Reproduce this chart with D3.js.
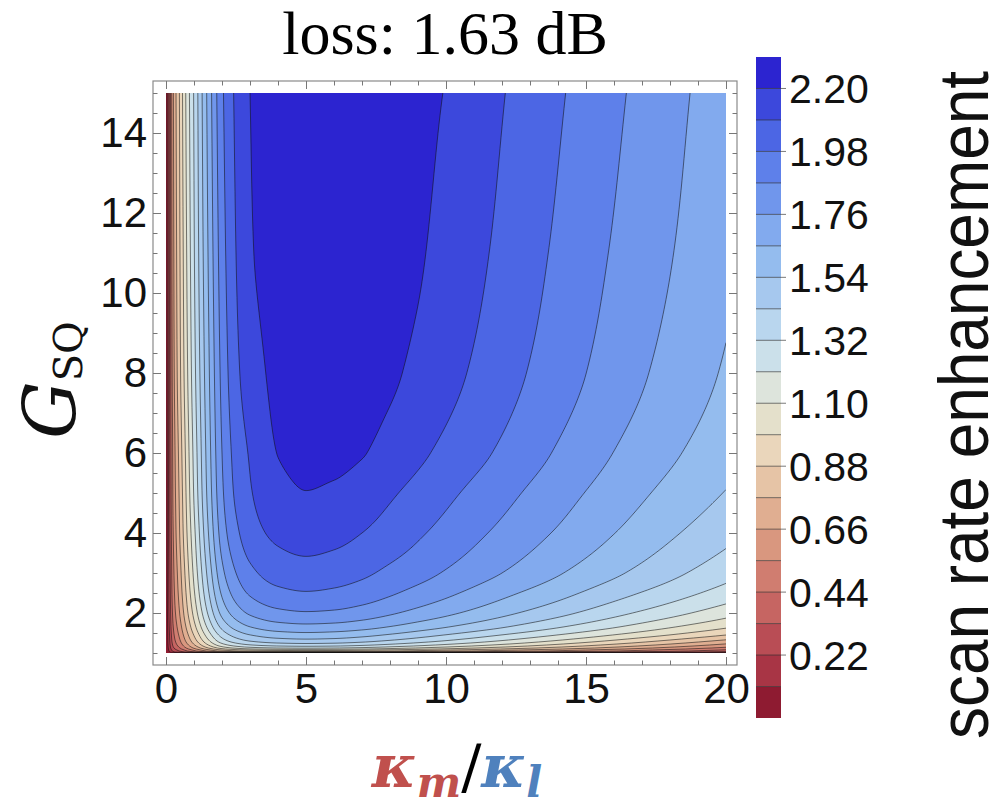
<!DOCTYPE html>
<html>
<head>
<meta charset="utf-8">
<script src="https://cdn.jsdelivr.net/npm/d3@7"></script>
<style>
  body { margin: 0; background: #fff; }
  svg { display: block; }
</style>
</head>
<body>
<svg id="chart" width="1006" height="809"></svg>
<script>
// ---- data ----
// grid columns (kappa_m / kappa_l) and rows (G_SQ)
const kappaRatio = [0, 0.1, 0.25, 0.5, 0.75, 1, 1.5, 2, 2.5, 3, 4, 5, 6, 7, 8, 9, 10, 12, 14, 16, 18, 20];
const gainSQ = [1, 1.03, 1.07, 1.12, 1.2, 1.3, 1.45, 1.65, 2, 2.5, 3, 4, 5, 6, 8, 11, 15];

// scan rate enhancement, one row per G_SQ value
const rowG1_00 = [0, 0, 0, 0, 0, 0, 0, 0, 0, 0, 0, 0, 0, 0, 0, 0, 0, 0, 0, 0, 0, 0];
const rowG1_03 = [0, 0.092, 0.21, 0.302, 0.386, 0.462, 0.601, 0.71, 0.769, 0.802, 0.832, 0.84, 0.833, 0.813, 0.783, 0.748, 0.713, 0.637, 0.561, 0.484, 0.407, 0.33];
const rowG1_07 = [0, 0.112, 0.255, 0.367, 0.469, 0.561, 0.729, 0.862, 0.933, 0.974, 1.01, 1.02, 1.012, 0.988, 0.952, 0.911, 0.869, 0.78, 0.69, 0.6, 0.509, 0.418];
const rowG1_12 = [0, 0.133, 0.303, 0.436, 0.557, 0.666, 0.865, 1.022, 1.107, 1.156, 1.198, 1.21, 1.2, 1.173, 1.13, 1.083, 1.034, 0.932, 0.828, 0.723, 0.618, 0.514];
const rowG1_20 = [0, 0.151, 0.344, 0.496, 0.633, 0.757, 0.985, 1.164, 1.26, 1.315, 1.363, 1.377, 1.367, 1.338, 1.293, 1.243, 1.19, 1.08, 0.967, 0.853, 0.74, 0.626];
const rowG1_30 = [0, 0.165, 0.375, 0.54, 0.69, 0.825, 1.073, 1.268, 1.373, 1.433, 1.485, 1.5, 1.49, 1.46, 1.415, 1.365, 1.312, 1.2, 1.085, 0.97, 0.855, 0.739];
const rowG1_45 = [0, 0.177, 0.403, 0.58, 0.741, 0.886, 1.152, 1.361, 1.474, 1.538, 1.595, 1.611, 1.6, 1.572, 1.528, 1.478, 1.426, 1.318, 1.208, 1.097, 0.988, 0.88];
const rowG1_65 = [0, 0.19, 0.43, 0.62, 0.794, 0.95, 1.234, 1.458, 1.579, 1.648, 1.709, 1.726, 1.716, 1.688, 1.645, 1.595, 1.545, 1.44, 1.33, 1.22, 1.11, 1.005];
const rowG2_0 = [0, 0.205, 0.465, 0.67, 0.856, 1.023, 1.33, 1.572, 1.702, 1.776, 1.841, 1.86, 1.85, 1.82, 1.775, 1.725, 1.675, 1.57, 1.465, 1.355, 1.25, 1.144];
const rowG2_5 = [0, 0.217, 0.493, 0.71, 0.906, 1.085, 1.41, 1.667, 1.805, 1.884, 1.953, 1.973, 1.96, 1.93, 1.885, 1.835, 1.785, 1.68, 1.58, 1.475, 1.375, 1.274];
const rowG3 = [0, 0.225, 0.51, 0.736, 0.94, 1.125, 1.46, 1.73, 1.87, 1.953, 2.025, 2.045, 2.03, 2.0, 1.955, 1.91, 1.86, 1.76, 1.66, 1.56, 1.46, 1.36];
const rowG4 = [0, 0.24, 0.54, 0.78, 0.99, 1.18, 1.53, 1.81, 1.955, 2.04, 2.115, 2.14, 2.125, 2.09, 2.045, 1.995, 1.945, 1.845, 1.748, 1.652, 1.557, 1.465];
const rowG5 = [0, 0.245, 0.56, 0.8, 1.02, 1.22, 1.57, 1.85, 2.0, 2.08, 2.17, 2.198, 2.186, 2.152, 2.105, 2.055, 2.005, 1.905, 1.805, 1.71, 1.62, 1.535];
const rowG6 = [0, 0.25, 0.57, 0.82, 1.04, 1.24, 1.59, 1.87, 2.02, 2.1, 2.202, 2.222, 2.222, 2.205, 2.165, 2.113, 2.062, 1.962, 1.858, 1.758, 1.668, 1.585];
const rowG8 = [0, 0.26, 0.6, 0.86, 1.08, 1.28, 1.62, 1.9, 2.06, 2.15, 2.222, 2.242, 2.245, 2.236, 2.214, 2.178, 2.128, 2.025, 1.922, 1.82, 1.725, 1.638];
const rowG11 = [0, 0.27, 0.62, 0.88, 1.11, 1.31, 1.65, 1.93, 2.09, 2.19, 2.235, 2.25, 2.255, 2.25, 2.235, 2.21, 2.168, 2.066, 1.962, 1.86, 1.766, 1.675];
const rowG15 = [0, 0.28, 0.64, 0.9, 1.14, 1.33, 1.68, 1.96, 2.11, 2.2, 2.245, 2.26, 2.265, 2.261, 2.248, 2.226, 2.196, 2.096, 1.994, 1.892, 1.794, 1.7];

const enhancement = [rowG1_00, rowG1_03, rowG1_07, rowG1_12, rowG1_20, rowG1_30, rowG1_45, rowG1_65,
  rowG2_0, rowG2_5, rowG3, rowG4, rowG5, rowG6, rowG8, rowG11, rowG15];

const contourLevels = [0.11, 0.22, 0.33, 0.44, 0.55, 0.66, 0.77, 0.88, 0.99, 1.1, 1.21, 1.32, 1.43, 1.54, 1.65, 1.76, 1.87, 1.98, 2.09, 2.2];
const legendMax = 2.31;
const legendTicks = [0.22, 0.44, 0.66, 0.88, 1.1, 1.32, 1.54, 1.76, 1.98, 2.2];
const xTicks = [0, 5, 10, 15, 20];
const xMinor = [1, 2, 3, 4, 6, 7, 8, 9, 11, 12, 13, 14, 16, 17, 18, 19];
const yTicks = [2, 4, 6, 8, 10, 12, 14];
const yMinor = [1, 1.5, 2.5, 3, 3.5, 4.5, 5, 5.5, 6.5, 7, 7.5, 8.5, 9, 9.5, 10.5, 11, 11.5, 12.5, 13, 13.5, 14.5, 15];

// band colours, low to high
const bandColors = ["#8e1b31", "#a83545", "#b94d55", "#c66562", "#d07d70", "#d9977f", "#e0ae91",
  "#e6c4a6", "#ead6bb", "#e4e0cb", "#dde4dc", "#cbe0ea", "#b9d6ee", "#a6c8ee", "#94bcee",
  "#82aaee", "#7096ec", "#5e80ea", "#4c66e4", "#3c48dc", "#2c24d0"];

// ---- layout ----
const svg = d3.select("#chart");
const x = d3.scaleLinear().domain([0, 20]).range([166, 726]);
const y = d3.scaleLinear().domain([1, 15]).range([653, 93]);
const frame = { left: 153, top: 81, right: 737, bottom: 665 };

// monotone cubic (Fritsch-Butland) used to resample the grid for rendering
function monotone(xs, ys) {
  const n = xs.length, d = [], m = new Array(n);
  for (let i = 0; i < n - 1; i++) d.push((ys[i + 1] - ys[i]) / (xs[i + 1] - xs[i]));
  m[0] = d[0]; m[n - 1] = d[n - 2];
  for (let i = 1; i < n - 1; i++) {
    if (d[i - 1] * d[i] <= 0) { m[i] = 0; continue; }
    const h0 = xs[i] - xs[i - 1], h1 = xs[i + 1] - xs[i];
    const w1 = 2 * h1 + h0, w2 = h1 + 2 * h0;
    m[i] = (w1 + w2) / (w1 / d[i - 1] + w2 / d[i]);
  }
  return v => {
    if (v <= xs[0]) return ys[0];
    if (v >= xs[n - 1]) return ys[n - 1];
    const i = Math.min(n - 2, d3.bisectRight(xs, v) - 1);
    const h = xs[i + 1] - xs[i], t = (v - xs[i]) / h, t2 = t * t, t3 = t2 * t;
    return (2 * t3 - 3 * t2 + 1) * ys[i] + (t3 - 2 * t2 + t) * h * m[i] +
      (-2 * t3 + 3 * t2) * ys[i + 1] + (t3 - t2) * h * m[i + 1];
  };
}

// title
svg.append("text")
  .attr("x", 445).attr("y", 54)
  .attr("text-anchor", "middle")
  .style("font-family", "'Liberation Serif', 'DejaVu Serif', serif")
  .style("font-size", "62px")
  .text("loss: 1.63 dB");

// frame
svg.append("rect")
  .attr("x", frame.left).attr("y", frame.top)
  .attr("width", frame.right - frame.left).attr("height", frame.bottom - frame.top)
  .attr("fill", "#fff").attr("stroke", "#8a8a8a").attr("stroke-width", 1.2);

// ---- contour field ----
const pad = 4;
const nx = Math.round(x(20) - x(0)) + 1 + 2 * pad;
const ny = Math.round(y(1) - y(15)) + 1 + 2 * pad;
const rowFns = enhancement.map(row => monotone(kappaRatio, row));
const field = new Float64Array(nx * ny);
for (let i = 0; i < nx; i++) {
  const kv = Math.max(0, Math.min(20, x.invert(x(0) + i - pad)));
  const colFn = monotone(gainSQ, rowFns.map(f => f(kv)));
  for (let j = 0; j < ny; j++) {
    const gv = Math.max(1, Math.min(15, y.invert(y(15) + j - pad)));
    field[j * nx + i] = colFn(gv);
  }
}
const bands = d3.contours().size([nx, ny]).thresholds(contourLevels)(field);

svg.append("clipPath").attr("id", "plotClip")
  .append("rect").attr("x", x(0)).attr("y", y(15))
  .attr("width", x(20) - x(0)).attr("height", y(1) - y(15));

const plot = svg.append("g").attr("clip-path", "url(#plotClip)");
plot.append("rect").attr("x", x(0)).attr("y", y(15))
  .attr("width", x(20) - x(0)).attr("height", y(1) - y(15))
  .attr("fill", bandColors[0]);

const grid = plot.append("g")
  .attr("transform", `translate(${x(0) - pad - 0.5},${y(15) - pad - 0.5})`);
const path = d3.geoPath();

grid.selectAll("path.band")
  .data(bands)
  .join("path")
  .attr("class", "band")
  .attr("d", path)
  .attr("fill", (d, i) => bandColors[i + 1]);

grid.selectAll("path.line")
  .data(bands)
  .join("path")
  .attr("class", "line")
  .attr("d", path)
  .attr("fill", "none")
  .attr("stroke", "#111")
  .attr("stroke-opacity", 0.55)
  .attr("stroke-width", 1);

// ---- axes on the frame ----
const tickFont = "'Liberation Sans', Arial, sans-serif";
function styleAxis(g) {
  g.select(".domain").remove();
  g.selectAll(".tick line").attr("stroke", "#777");
  g.selectAll(".tick text").style("font-family", tickFont).style("font-size", "42px").attr("fill", "#111");
}
svg.append("g").attr("transform", `translate(0,${frame.bottom})`)
  .call(d3.axisBottom(x).tickValues(xTicks).tickSize(-8).tickPadding(8)).call(styleAxis);
svg.append("g").attr("transform", `translate(0,${frame.bottom})`)
  .call(d3.axisBottom(x).tickValues(xMinor).tickSize(-4.5).tickFormat("")).call(styleAxis);
svg.append("g").attr("transform", `translate(0,${frame.top})`)
  .call(d3.axisTop(x).tickValues(xTicks).tickSize(-8).tickFormat("")).call(styleAxis);
svg.append("g").attr("transform", `translate(0,${frame.top})`)
  .call(d3.axisTop(x).tickValues(xMinor).tickSize(-4.5).tickFormat("")).call(styleAxis);
svg.append("g").attr("transform", `translate(${frame.left},0)`)
  .call(d3.axisLeft(y).tickValues(yTicks).tickSize(-8).tickPadding(6)).call(styleAxis);
svg.append("g").attr("transform", `translate(${frame.left},0)`)
  .call(d3.axisLeft(y).tickValues(yMinor).tickSize(-4.5).tickFormat("")).call(styleAxis);
svg.append("g").attr("transform", `translate(${frame.right},0)`)
  .call(d3.axisRight(y).tickValues(yTicks).tickSize(-8).tickFormat("")).call(styleAxis);
svg.append("g").attr("transform", `translate(${frame.right},0)`)
  .call(d3.axisRight(y).tickValues(yMinor).tickSize(-4.5).tickFormat("")).call(styleAxis);

// ---- colour bar ----
const cb = d3.scaleLinear().domain([0, legendMax]).range([718, 57]);
const cbLeft = 756, cbRight = 781;
const bandEdges = [0].concat(contourLevels);
svg.append("g").selectAll("rect")
  .data(bandEdges)
  .join("rect")
  .attr("x", cbLeft).attr("width", cbRight - cbLeft)
  .attr("y", (d, i) => cb(i < contourLevels.length ? contourLevels[i] : legendMax))
  .attr("height", (d, i) => cb(d) - cb(i < contourLevels.length ? contourLevels[i] : legendMax))
  .attr("fill", (d, i) => bandColors[i]);
svg.append("g").selectAll("line")
  .data(contourLevels)
  .join("line")
  .attr("x1", cbLeft).attr("x2", d => legendTicks.includes(d) ? cbRight + 5 : cbRight)
  .attr("y1", d => cb(d)).attr("y2", d => cb(d))
  .attr("stroke", "#222").attr("stroke-opacity", 0.6);
svg.append("g").selectAll("text")
  .data(legendTicks)
  .join("text")
  .attr("x", cbRight + 8).attr("y", d => cb(d))
  .attr("dy", "0.36em")
  .style("font-family", tickFont).style("font-size", "41px").attr("fill", "#111")
  .text(d => d.toFixed(2));

svg.append("text")
  .attr("transform", "translate(988,405) rotate(-90)")
  .attr("text-anchor", "middle")
  .attr("textLength", 668).attr("lengthAdjust", "spacingAndGlyphs")
  .style("font-family", tickFont).style("font-size", "70px").attr("fill", "#111")
  .text("scan rate enhancement");

// ---- axis titles ----
const yTitle = svg.append("text")
  .attr("transform", "translate(76,380) rotate(-90)")
  .attr("text-anchor", "middle")
  .style("font-family", "'DejaVu Serif', serif").attr("fill", "#111");
yTitle.append("tspan").style("font-size", "72px").style("font-style", "italic").text("G");
yTitle.append("tspan").style("font-size", "40px").attr("dy", 6).text("SQ");

const xTitle = svg.append("text")
  .attr("x", 457).attr("y", 787)
  .attr("text-anchor", "middle")
  .style("font-family", "'DejaVu Serif', serif");
xTitle.append("tspan").attr("fill", "#c0504d").style("font-size", "60px")
  .style("font-weight", "bold").style("font-style", "italic").text("κ");
xTitle.append("tspan").attr("fill", "#c0504d").style("font-size", "42px").attr("dy", 10)
  .style("font-weight", "bold").style("font-style", "italic").text("m");
xTitle.append("tspan").attr("fill", "#000").style("font-size", "60px").attr("dy", -10).text("/");
xTitle.append("tspan").attr("fill", "#4f81bd").style("font-size", "60px")
  .style("font-weight", "bold").style("font-style", "italic").text("κ");
xTitle.append("tspan").attr("fill", "#4f81bd").style("font-size", "42px").attr("dy", 10)
  .style("font-weight", "bold").style("font-style", "italic").text("l");
</script>
</body>
</html>
